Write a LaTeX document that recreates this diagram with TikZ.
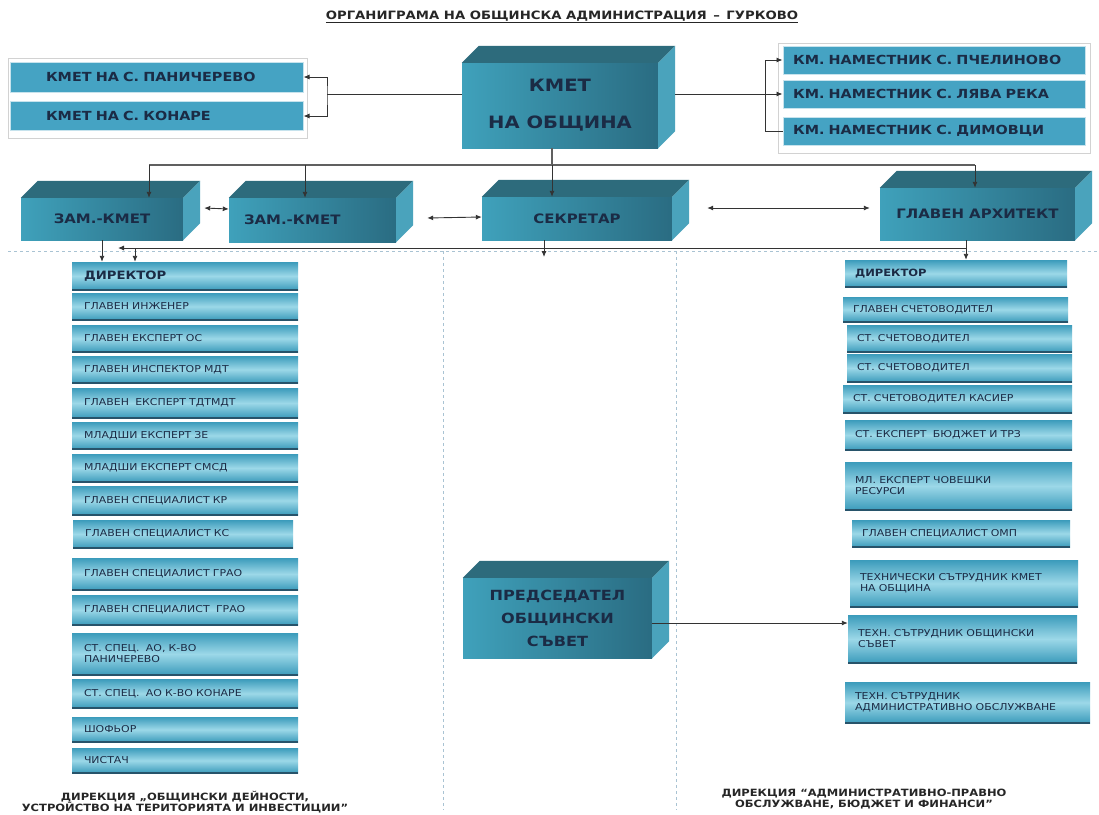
\documentclass[tikz,border=0pt]{standalone}
\usepackage{fontspec}
\setmainfont{DejaVu Sans}
\newfontfamily\orgfont[FakeStretch=1.15]{DejaVu Sans}
\usetikzlibrary{arrows,arrows.meta}

\definecolor{navy}{HTML}{1B2B45}
\definecolor{boxblue}{HTML}{45A3C3}
\definecolor{boxlight}{HTML}{9CD8E8}
\definecolor{boxdark}{HTML}{3B9BBB}
\definecolor{cubelight}{HTML}{3FA1BB}
\definecolor{cubedark}{HTML}{2A6C82}
\definecolor{cubetop}{HTML}{2D6B7C}
\definecolor{cubeside}{HTML}{4AA3BC}
\definecolor{rulecol}{HTML}{A9C3D3}
\definecolor{edgecol}{HTML}{27536A}

\tikzset{
  frm/.style={draw=gray!35, fill=white, line width=1pt, inner sep=0pt},
  topbox/.style={fill=boxblue, draw=white!70!boxblue, line width=1pt, text=navy,
    font=\orgfont\bfseries\fontsize{12.5}{14}\selectfont, align=left, inner ysep=0pt},
  cube/.style={left color=cubelight, right color=cubedark, text=navy, align=center,
    inner sep=0pt, font=\orgfont\bfseries\fontsize{13}{15}\selectfont},
  colbox/.style={top color=boxdark, bottom color=boxdark, middle color=boxlight,
    text=navy, align=left, inner xsep=12pt, inner ysep=0pt,
    font=\orgfont\fontsize{9.5}{11}\selectfont,
    path picture={\draw[edgecol, line width=1.5pt] (path picture bounding box.south west) -- (path picture bounding box.south east);}},
  lbox/.style={colbox, text width=202pt},
  rbox/.style={colbox, inner xsep=10pt, text width=#1},
  head/.style={font=\orgfont\bfseries\fontsize{11.5}{13}\selectfont},
  foot/.style={align=center, text=black!85, font=\orgfont\bfseries\fontsize{10}{11}\selectfont},
  conn/.style={draw=black!80, line width=.9pt},
  hubline/.style={draw=gray!75!black, line width=1.3pt},
  >={Latex[length=6pt,width=5pt]}
}

\newcommand{\cubeface}[1]{%
  \fill[cubetop] (#1.north west) -- ([xshift=17pt,yshift=17pt]#1.north west) -- ([xshift=17pt,yshift=17pt]#1.north east) -- (#1.north east) -- cycle;
  \fill[cubeside] (#1.north east) -- ([xshift=17pt,yshift=17pt]#1.north east) -- ([xshift=17pt,yshift=17pt]#1.south east) -- (#1.south east) -- cycle;}

\begin{document}
\begin{tikzpicture}[x=1pt, y=-1pt]
\useasboundingbox (0,0) rectangle (1099,814);
\fill[white] (0,0) rectangle (1099,814);

\draw[rulecol, dashed, line width=.8pt] (8,251) -- (1099,251);
\draw[rulecol, dashed, line width=.8pt] (443,251) -- (443,810);
\draw[rulecol, dashed, line width=.8pt] (676,251) -- (676,810);

\draw (562,17) node (title) [font=\orgfont\bfseries\fontsize{11.5}{14}\selectfont, text=black!85] {\underline{ОРГАНИГРАМА НА ОБЩИНСКА АДМИНИСТРАЦИЯ \,–\, ГУРКОВО}};

\draw (157.5,98) node (lfrm) [frm, minimum width=299pt, minimum height=80pt] {};
\draw (156.5,77) node (l1) [topbox, text width=221pt, inner xsep=36pt, minimum height=30pt] {КМЕТ НА С. ПАНИЧЕРЕВО};
\draw (156.5,116) node (l2) [topbox, text width=221pt, inner xsep=36pt, minimum height=29pt] {КМЕТ НА С. КОНАРЕ};

\draw (934,98) node (rfrm) [frm, minimum width=312pt, minimum height=110pt] {};
\draw (934,60) node (r1) [topbox, text width=282pt, inner xsep=10pt, minimum height=28pt] {КМ. НАМЕСТНИК С. ПЧЕЛИНОВО};
\draw (934,94) node (r2) [topbox, text width=282pt, inner xsep=10pt, minimum height=28pt] {КМ. НАМЕСТНИК С. ЛЯВА РЕКА};
\draw (934,131) node (r3) [topbox, text width=282pt, inner xsep=10pt, minimum height=28pt] {КМ. НАМЕСТНИК С. ДИМОВЦИ};

\draw (560,105.5) node (k) [cube, minimum width=196pt, minimum height=85pt, font=\orgfont\bfseries\fontsize{17}{19}\selectfont] {КМЕТ\\[18pt]НА ОБЩИНА};
\cubeface{k}
\draw (102,219) node (z1) [cube, minimum width=162pt, minimum height=42pt] {ЗАМ.-КМЕТ};
\cubeface{z1}
\draw (312.5,220) node (z2) [cube, minimum width=167pt, minimum height=44pt, text width=137pt, inner xsep=15pt, align=left] {ЗАМ.-КМЕТ};
\cubeface{z2}
\draw (577,218.5) node (s) [cube, minimum width=190pt, minimum height=43pt] {СЕКРЕТАР};
\cubeface{s}
\draw (977.5,214) node (a) [cube, minimum width=195pt, minimum height=52pt] {ГЛАВЕН АРХИТЕКТ};
\cubeface{a}
\draw (557.5,618) node (p) [cube, minimum width=189pt, minimum height=80pt, font=\orgfont\bfseries\fontsize{14}{23}\selectfont] {ПРЕДСЕДАТЕЛ\\ОБЩИНСКИ\\СЪВЕТ};
\cubeface{p}

\draw (185,276) node (d1) [lbox, head, minimum height=28pt] {ДИРЕКТОР};
\draw (185,306.5) node (d2) [lbox, minimum height=27pt] {ГЛАВЕН ИНЖЕНЕР};
\draw (185,338.5) node (d3) [lbox, minimum height=27pt] {ГЛАВЕН ЕКСПЕРТ ОС};
\draw (185,369.5) node (d4) [lbox, minimum height=27pt] {ГЛАВЕН ИНСПЕКТОР МДТ};
\draw (185,403) node (d5) [lbox, minimum height=30pt] {ГЛАВЕН \ ЕКСПЕРТ ТДТМДТ};
\draw (185,435.5) node (d6) [lbox, minimum height=27pt] {МЛАДШИ ЕКСПЕРТ ЗЕ};
\draw (185,468) node (d7) [lbox, minimum height=28pt] {МЛАДШИ ЕКСПЕРТ СМСД};
\draw (185,500.5) node (d8) [lbox, minimum height=29pt] {ГЛАВЕН СПЕЦИАЛИСТ КР};
\draw (183,534) node (d9) [lbox, text width=196pt, minimum height=28pt] {ГЛАВЕН СПЕЦИАЛИСТ КС};
\draw (185,574) node (d10) [lbox, minimum height=32pt] {ГЛАВЕН СПЕЦИАЛИСТ ГРАО};
\draw (185,610) node (d11) [lbox, minimum height=30pt] {ГЛАВЕН СПЕЦИАЛИСТ \ ГРАО};
\draw (185,654) node (d12) [lbox, minimum height=42pt] {СТ. СПЕЦ. \ АО, К-ВО\\ПАНИЧЕРЕВО};
\draw (185,693.5) node (d13) [lbox, minimum height=29pt] {СТ. СПЕЦ. \ АО К-ВО КОНАРЕ};
\draw (185,729.5) node (d14) [lbox, minimum height=25pt] {ШОФЬОР};
\draw (185,760.5) node (d15) [lbox, minimum height=25pt] {ЧИСТАЧ};

\draw (956,273.5) node (e1) [rbox=202pt, head, font=\orgfont\bfseries\fontsize{10}{12}\selectfont, minimum height=27pt] {ДИРЕКТОР};
\draw (955.5,309.5) node (e2) [rbox=205pt, minimum height=25pt] {ГЛАВЕН СЧЕТОВОДИТЕЛ};
\draw (959.5,338.5) node (e3) [rbox=205pt, minimum height=27pt] {СТ. СЧЕТОВОДИТЕЛ};
\draw (959.5,368) node (e4) [rbox=205pt, minimum height=28pt] {СТ. СЧЕТОВОДИТЕЛ};
\draw (957.5,399) node (e5) [rbox=209pt, minimum height=28pt] {СТ. СЧЕТОВОДИТЕЛ КАСИЕР};
\draw (958.5,435) node (e6) [rbox=207pt, minimum height=30pt] {СТ. ЕКСПЕРТ \ БЮДЖЕТ И ТРЗ};
\draw (958.5,486) node (e7) [rbox=207pt, minimum height=48pt] {МЛ. ЕКСПЕРТ ЧОВЕШКИ\\РЕСУРСИ};
\draw (961,533.5) node (e8) [rbox=198pt, minimum height=27pt] {ГЛАВЕН СПЕЦИАЛИСТ ОМП};
\draw (964,583.5) node (e9) [rbox=208pt, minimum height=47pt] {ТЕХНИЧЕСКИ СЪТРУДНИК КМЕТ\\НА ОБЩИНА};
\draw (962.5,639) node (e10) [rbox=209pt, minimum height=48pt] {ТЕХН. СЪТРУДНИК ОБЩИНСКИ\\СЪВЕТ};
\draw (967.5,702.5) node (e11) [rbox=225pt, minimum height=41pt] {ТЕХН. СЪТРУДНИК\\АДМИНИСТРАТИВНО ОБСЛУЖВАНЕ};

\draw (185,802) node (fl) [foot] {ДИРЕКЦИЯ „ОБЩИНСКИ ДЕЙНОСТИ,\\УСТРОЙСТВО НА ТЕРИТОРИЯТА И ИНВЕСТИЦИИ”};
\draw (864,799) node (fr) [foot] {ДИРЕКЦИЯ “АДМИНИСТРАТИВНО-ПРАВНО\\ОБСЛУЖВАНЕ, БЮДЖЕТ И ФИНАНСИ”};

\coordinate (lb) at (327,94);
\coordinate (rb) at (765,94);
\coordinate (hub) at (552,165);
\coordinate (hl) at (149,165);
\coordinate (hr) at (975,165);
\coordinate (h2) at (305,165);
\coordinate (jr) at (966,248);
\coordinate (jl) at (118,248);
\coordinate (jd) at (135,248);
\coordinate (mid) at (544,257);

\draw[conn] (k.west |- lb) -- (lb);
\draw[conn,<->] (l1.east) -| (lb) |- (l2.east);
\draw[conn] ([xshift=17pt,yshift=11.5pt]k.east) -- (rb);
\draw[conn,->] (rb) |- (r1.west);
\draw[conn,->] (rb) -- (r2.west);
\draw[conn] (rb) |- (r3.west);

\draw[hubline] (k.south -| hub) -- (hub);
\draw[hubline] (hl) -- (hr);
\draw[conn,->] (hub) -- (hub |- s.north);
\draw[conn,->] (hl) -- (hl |- z1.north);
\draw[conn,->] (h2) -- (h2 |- z2.north);
\draw[conn,->] (hr) -- (hr |- a.north);

\draw[conn,<->] ([xshift=21pt,yshift=11pt]z1.east) -- ([yshift=11pt]z2.west);
\draw[conn,<->] ([xshift=31pt,yshift=2pt]z2.east) -- ([yshift=1.5pt]s.west);
\draw[conn,<->] ([xshift=35pt,yshift=10.5pt]s.east) -- ([xshift=-10pt,yshift=6pt]a.west);

\draw[conn] (a.south -| jr) -- (jr);
\draw[conn,->] (jr) -- (jr |- e1.north);
\draw[conn,->] (jr) -- (jl);
\draw[conn,->] (jd) -- (jd |- d1.north);
\draw[conn,->] (z1.south) -- (z1.south |- d1.north);
\draw[conn,->] (s.south -| mid) -- (mid);
\draw[conn,->] ([yshift=-5pt]p.east) -- ([yshift=16pt]e10.west);

\end{tikzpicture}
\end{document}
